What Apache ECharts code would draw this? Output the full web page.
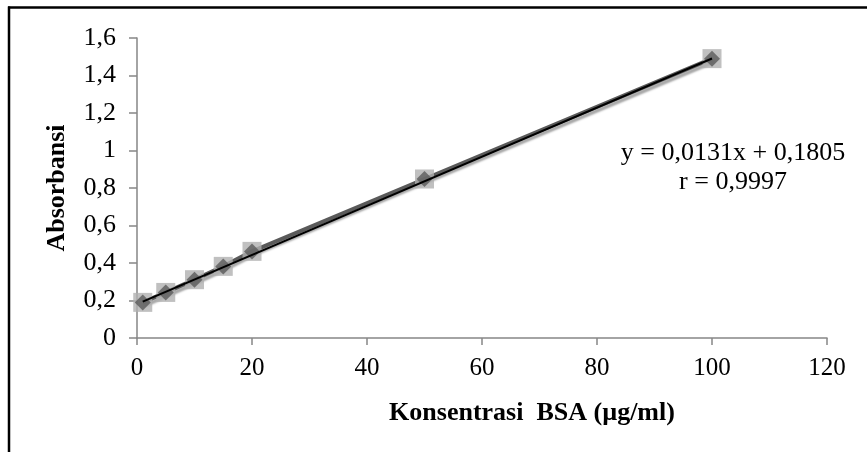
<!DOCTYPE html>
<html>
<head>
<meta charset="utf-8">
<script src="https://cdn.jsdelivr.net/npm/echarts@6/dist/echarts.min.js"></script>
<style>html,body{margin:0;padding:0;background:#fff;}#c{width:867px;height:452px;}</style>
</head>
<body>
<div id="c"></div>
<script>
var concentration = [1, 5, 10, 15, 20, 50, 100];
var absorbance = [0.19, 0.243, 0.311, 0.382, 0.462, 0.848, 1.49];
var slope = 0.0131, intercept = 0.1805, rValue = '0,9997';
var xTicks = [0, 20, 40, 60, 80, 100, 120];
var yTicks = [0, 0.2, 0.4, 0.6, 0.8, 1, 1.2, 1.4, 1.6];

var pts = concentration.map(function (x, i) { return [x, absorbance[i]]; });
var xs = [concentration[0], concentration[concentration.length - 1]];
var trend = xs.map(function (x) { return [x, slope * x + intercept]; });
function fmt(v) { return String(v).replace('.', ','); }
var font = 'Liberation Serif';

var chart = echarts.init(document.getElementById('c'), null, {renderer: 'canvas'});
chart.setOption({
  animation: false,
  backgroundColor: '#ffffff',
  grid: {left: 137, right: 40, top: 38, bottom: 114},
  xAxis: {
    type: 'value', min: xTicks[0], max: xTicks[xTicks.length - 1], interval: 20,
    name: 'Konsentrasi  BSA (µg/ml)', nameLocation: 'middle', nameGap: 62,
    nameTextStyle: {fontFamily: font, fontSize: 26, fontWeight: 'bold', color: '#000', padding: [0, 0, 0, 100]},
    axisLine: {show: true, lineStyle: {color: '#868686', width: 1.5}},
    axisTick: {show: true, length: 7, lineStyle: {color: '#868686', width: 1.5}},
    axisLabel: {fontFamily: font, fontSize: 25, color: '#000', margin: 18, formatter: function (v) { return fmt(v); }},
    splitLine: {show: false}
  },
  yAxis: {
    type: 'value', min: yTicks[0], max: yTicks[yTicks.length - 1], interval: 0.2,
    name: 'Absorbansi', nameLocation: 'middle', nameGap: 67, nameRotate: 90,
    nameTextStyle: {fontFamily: font, fontSize: 26, fontWeight: 'bold', color: '#000'},
    axisLine: {show: true, lineStyle: {color: '#868686', width: 1.5}},
    axisTick: {show: true, length: 8, lineStyle: {color: '#868686', width: 1.5}},
    axisLabel: {fontFamily: font, fontSize: 26, color: '#000', margin: 21, formatter: function (v) { return fmt(Math.round(v * 10) / 10); }},
    splitLine: {show: false}
  },
  title: {
    text: 'y = 0,0131x + 0,1805\nr = ' + rValue,
    left: 728, top: 134, textAlign: 'center',
    textStyle: {fontFamily: font, fontSize: 26, fontWeight: 'normal', color: '#000', lineHeight: 29, align: 'center'}
  },
  graphic: [
    {type: 'line', shape: {x1: 8, y1: 7.5, x2: 867, y2: 7.5}, style: {stroke: '#000', lineWidth: 2.5}},
    {type: 'line', shape: {x1: 9, y1: 6.5, x2: 9, y2: 452}, style: {stroke: '#000', lineWidth: 2.5}}
  ],
  series: [
    {
      type: 'line', data: pts, symbol: 'none', z: 2,
      lineStyle: {color: '#5a5a5a', width: 4, shadowColor: 'rgba(0,0,0,0.35)', shadowBlur: 2, shadowOffsetX: 2, shadowOffsetY: 3}
    },
    {
      type: 'scatter', data: pts, symbol: 'rect', symbolSize: 19, z: 3,
      itemStyle: {color: '#b0b0b0'}
    },
    {
      type: 'scatter', data: pts, symbol: 'diamond', symbolSize: 16, z: 4,
      itemStyle: {color: '#5a5a5a'}
    },
    {
      type: 'line', data: trend, symbol: 'none', z: 5,
      lineStyle: {color: '#000', width: 2}
    }
  ]
});
</script>
</body>
</html>
